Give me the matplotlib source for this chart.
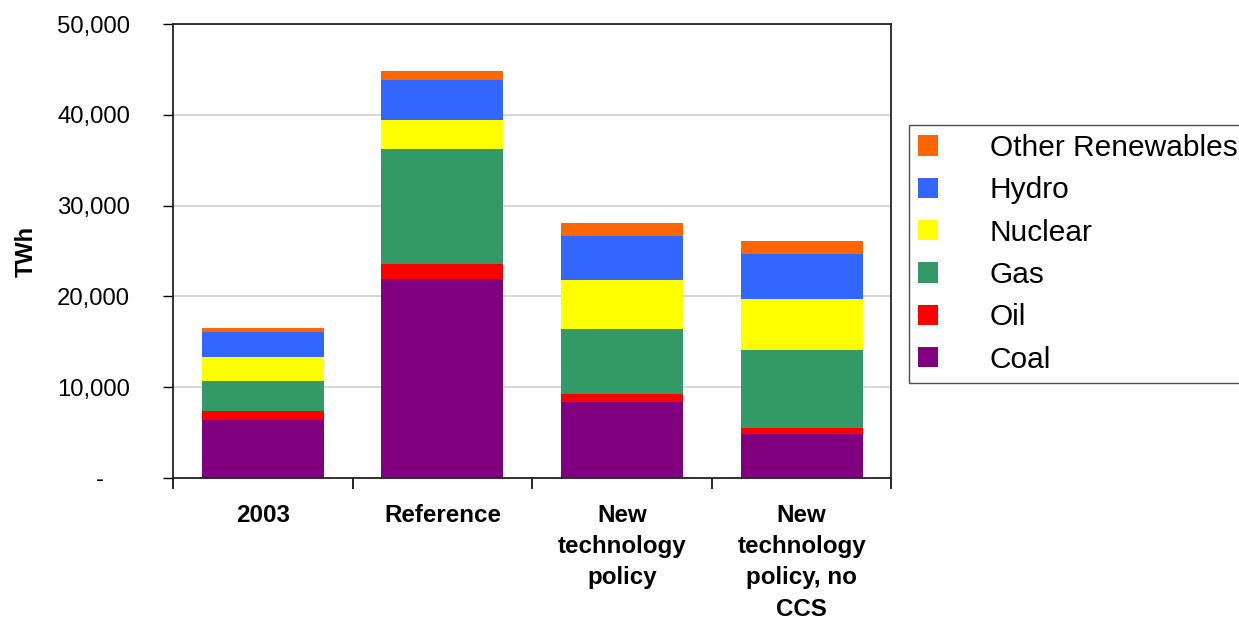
import matplotlib
matplotlib.use('Agg')
import matplotlib.pyplot as plt
import matplotlib.ticker as ticker
import numpy as np

plt.rcParams['font.family'] = ['Liberation Sans', 'DejaVu Sans']

# Data (TWh)
scenarios = ['2003', 'Reference', 'New\ntechnology\npolicy', 'New\ntechnology\npolicy, no\nCCS']
coal = [6420, 21950, 8400, 4880]
oil = [1000, 1580, 880, 660]
gas = [3200, 12740, 7160, 8590]
nuclear = [2650, 3190, 5400, 5620]
hydro = [2850, 4370, 4770, 4880]
other_renew = [450, 1030, 1510, 1500]

series = [
    ('Coal', coal, '#800080'),
    ('Oil', oil, '#ff0000'),
    ('Gas', gas, '#339966'),
    ('Nuclear', nuclear, '#ffff00'),
    ('Hydro', hydro, '#3366ff'),
    ('Other Renewables', other_renew, '#ff6600'),
]

fig = plt.figure(figsize=(12.39, 6.19), dpi=100)
ax = fig.add_axes([0.1396, 0.228, 0.5799, 0.733])

x = np.arange(len(scenarios))
bottom = np.zeros(len(scenarios))
handles = []
for name, vals, color in series:
    b = ax.bar(x, vals, width=0.68, bottom=bottom, color=color, label=name, zorder=2)
    handles.append(b)
    bottom += np.array(vals)

ax.set_xlim(-0.5, len(scenarios) - 0.5)
ax.set_ylim(0, 50000)
ax.yaxis.set_major_locator(ticker.MultipleLocator(10000))
# accounting style: zero shown as a dash
ax.yaxis.set_major_formatter(ticker.FuncFormatter(lambda v, p: '-    ' if v == 0 else f'{int(v):,}'))
ax.grid(axis='y', color='#d0d0d0', linewidth=1.2, zorder=0)
ax.set_axisbelow(True)

# category labels centred, ticks at category boundaries
ax.set_xticks(np.arange(-0.5, len(scenarios)), minor=False)
ax.set_xticklabels([])
ax.set_xticks(x, minor=True)
ax.set_xticklabels(scenarios, minor=True, fontsize=17.4, fontweight='bold', linespacing=1.45)
ax.tick_params(axis='x', which='minor', length=0, pad=19)
ax.tick_params(axis='x', which='major', length=8, width=1.2, direction='out')
ax.tick_params(axis='y', length=7, width=1.0, labelsize=17.2, pad=24)

for s in ax.spines.values():
    s.set_color('#222222')
    s.set_linewidth(1.3)

ax.set_ylabel('TWh', fontsize=17, fontweight='bold', labelpad=14)

leg = fig.legend(handles[::-1], [s[0] for s in series][::-1],
                 loc='upper left', bbox_to_anchor=(909 / 1239, 1 - 125 / 619),
                 fontsize=21.5, frameon=True, fancybox=False, edgecolor='#222222',
                 handlelength=0.68, handleheight=0.68, handletextpad=1.72,
                 labelspacing=0.48, borderpad=0.3, borderaxespad=0)
leg.get_frame().set_linewidth(1.0)

fig.savefig('out.png', dpi=100)
